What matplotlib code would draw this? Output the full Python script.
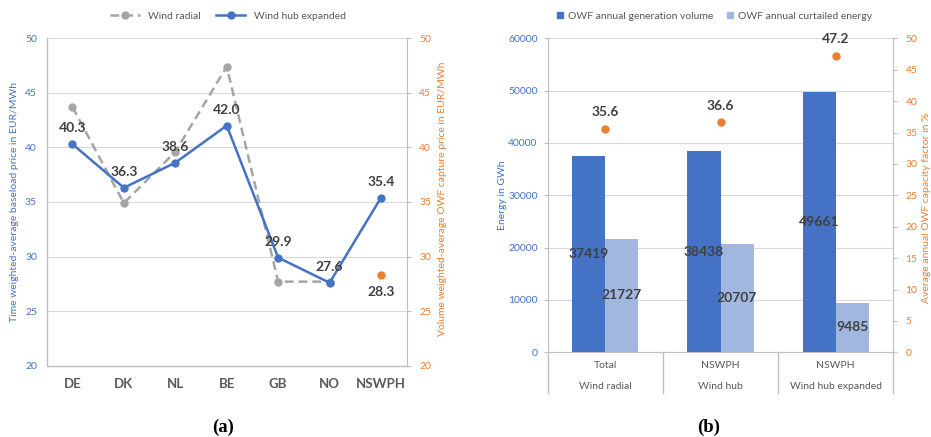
import matplotlib
matplotlib.use("Agg")
import matplotlib.pyplot as plt
from matplotlib.lines import Line2D
import numpy as np

plt.rcParams['font.family'] = ['Lato', 'DejaVu Sans']

# ---- data: panel (a) ----
countries = ["DE", "DK", "NL", "BE", "GB", "NO", "NSWPH"]
wind_radial = [43.7, 34.9, 39.6, 47.4, 27.7, 27.7, np.nan]
wind_hub_expanded = [40.3, 36.3, 38.6, 42.0, 29.9, 27.6, 35.4]
capture_price_nswph = 28.3

# ---- data: panel (b) ----
sub_labels = ["Total", "NSWPH", "NSWPH"]
scenario_labels = ["Wind radial", "Wind hub", "Wind hub expanded"]
generation = [37419, 38438, 49661]
curtailed = [21727, 20707, 9485]
capacity_factor = [35.6, 36.6, 47.2]

BLUE = "#4472C4"
LIGHT_BLUE = "#A2B7E0"
GRAY = "#A5A5A5"
ORANGE = "#ED7D31"
LABEL = "#404040"
CAT = "#595959"
GRID = "#D9D9D9"
SPINE = "#BFBFBF"

fig = plt.figure(figsize=(9.31, 4.37), dpi=100)

# ================= panel (a) =================
ax = fig.add_axes([0.0502, 0.1632, 0.3867, 0.7492])
x = np.arange(len(countries))
ax.plot(x, wind_radial, color=GRAY, lw=1.8, ls=(0, (3.5, 2.0)), marker="o", ms=5,
        label="Wind radial", zorder=3)
ax.plot(x, wind_hub_expanded, color=BLUE, lw=1.8, marker="o", ms=5,
        label="Wind hub expanded", zorder=4)
for xi, v in zip(x, wind_hub_expanded):
    ax.annotate(f"{v:.1f}", (xi, v), xytext=(0, 11.5), textcoords="offset points",
                ha="center", va="center", fontsize=10, fontweight="bold", color=LABEL, zorder=5)

ax.set_xlim(-0.5, len(countries) - 0.5)
ax.set_ylim(20, 50)
ax.set_yticks(np.arange(20, 51, 5))
ax.set_xticks(x)
ax.set_xticklabels(countries, fontsize=9.5, fontweight="bold", color=CAT)
ax.tick_params(axis="x", length=0, pad=9)
ax.tick_params(axis="y", length=0, labelsize=7.5, labelcolor=BLUE, pad=7)
ax.grid(axis="y", color=GRID, lw=0.8)
ax.set_axisbelow(True)
for s in ["top", "right"]:
    ax.spines[s].set_visible(False)
for s in ["left", "bottom"]:
    ax.spines[s].set_color(SPINE)
    ax.spines[s].set_linewidth(1.0)
ax.set_ylabel("Time weighted-average baseload price in EUR/MWh", color=BLUE, fontsize=7.5)
ax.yaxis.set_label_coords(-0.077, 0.5)

ax2 = ax.twinx()
ax2.set_ylim(20, 50)
ax2.set_yticks(np.arange(20, 51, 5))
ax2.plot([x[-1]], [capture_price_nswph], "o", color=ORANGE, ms=5, zorder=4)
ax2.annotate(f"{capture_price_nswph:.1f}", (x[-1], capture_price_nswph), xytext=(0, -12),
             textcoords="offset points", ha="center", va="center", fontsize=10,
             fontweight="bold", color=LABEL)
ax2.tick_params(axis="y", length=3, color=SPINE, labelsize=7.5, labelcolor=ORANGE, pad=6)
for s in ["top", "left", "bottom"]:
    ax2.spines[s].set_visible(False)
ax2.spines["right"].set_color(SPINE)
ax2.set_ylabel("Volume weighted-average OWF capture price in EUR/MWh", color=ORANGE, fontsize=7.5)
ax2.yaxis.set_label_coords(1.086, 0.51)

handles_a = [
    Line2D([], [], color=GRAY, lw=1.8, ls=(0, (3.5, 2.0)), marker="o", ms=5),
    Line2D([], [], color=BLUE, lw=1.8, marker="o", ms=5),
]
fig.legend(handles_a, ["Wind radial", "Wind hub expanded"], loc="center",
           bbox_to_anchor=(0.245, 0.963), ncol=2, frameon=False, fontsize=7.5,
           handlelength=2.8, columnspacing=1.5, labelcolor=CAT)

fig.text(0.2395, 0.023, "(a)", ha="center", va="center", fontsize=13.5, fontweight="bold",
         family="Liberation Serif")

# ================= panel (b) =================
bx = fig.add_axes([0.5886, 0.1938, 0.3706, 0.7185])
g = np.arange(len(scenario_labels))
w = 0.287
b1 = bx.bar(g - w / 2, generation, width=w, color=BLUE, zorder=2,
            label="OWF annual generation volume")
b2 = bx.bar(g + w / 2, curtailed, width=w, color=LIGHT_BLUE, zorder=2,
            label="OWF annual curtailed energy")
for bars, vals in ((b1, generation), (b2, curtailed)):
    for r, v in zip(bars, vals):
        bx.text(r.get_x() + r.get_width() / 2, v / 2, f"{v}", ha="center", va="center",
                fontsize=10, fontweight="bold", color=LABEL, zorder=5)

bx.set_xlim(-0.5, len(scenario_labels) - 0.5)
bx.set_ylim(0, 60000)
bx.set_yticks(np.arange(0, 60001, 10000))
bx.set_xticks([])
bx.tick_params(axis="y", length=3, color=SPINE, labelsize=7.5, labelcolor=BLUE, pad=4.5)
bx.grid(axis="y", color=GRID, lw=0.8)
bx.set_axisbelow(True)
bx.spines["top"].set_visible(False)
bx.spines["right"].set_visible(False)
bx.spines["left"].set_color(SPINE)
bx.spines["bottom"].set_color(SPINE)
bx.set_ylabel("Energy in GWh", color=BLUE, fontsize=7.5)
bx.yaxis.set_label_coords(-0.12, 0.5)

# two-level category axis with separators
for xb in np.arange(-0.5, len(scenario_labels), 1.0):
    bx.plot([xb, xb], [0, -0.1296], color=SPINE, lw=1.0, clip_on=False,
            transform=bx.get_xaxis_transform())
for gi, (s1, s2) in enumerate(zip(sub_labels, scenario_labels)):
    bx.text(gi, -0.0436, s1, ha="center", va="center", fontsize=7.5, color=CAT,
            transform=bx.get_xaxis_transform())
    bx.text(gi, -0.110, s2, ha="center", va="center", fontsize=7.5, color=CAT,
            transform=bx.get_xaxis_transform())

bx2 = bx.twinx()
bx2.set_ylim(0, 50)
bx2.set_yticks(np.arange(0, 51, 5))
bx2.plot(g, capacity_factor, "o", color=ORANGE, ms=5, zorder=4)
for gi, v in zip(g, capacity_factor):
    bx2.annotate(f"{v:.1f}", (gi, v), xytext=(0, 12), textcoords="offset points",
                 ha="center", va="center", fontsize=10, fontweight="bold", color=LABEL)
bx2.tick_params(axis="y", length=3, color=SPINE, labelsize=7.5, labelcolor=ORANGE, pad=6)
for s in ["top", "left", "bottom"]:
    bx2.spines[s].set_visible(False)
bx2.spines["right"].set_color(SPINE)
bx2.set_ylabel("Average annual OWF capacity factor in %", color=ORANGE, fontsize=7.5)
bx2.yaxis.set_label_coords(1.083, 0.46)

handles_b = [
    Line2D([], [], ls="none", marker="s", ms=5, color=BLUE),
    Line2D([], [], ls="none", marker="s", ms=5, color=LIGHT_BLUE),
]
fig.legend(handles_b, ["OWF annual generation volume", "OWF annual curtailed energy"],
           loc="center", bbox_to_anchor=(0.767, 0.963), ncol=2, frameon=False,
           fontsize=7.5, handlelength=0.8, handletextpad=0.4, columnspacing=1.2,
           labelcolor=CAT)

fig.text(0.7615, 0.023, "(b)", ha="center", va="center", fontsize=13.5, fontweight="bold",
         family="Liberation Serif")

fig.savefig("out.png", dpi=100)
